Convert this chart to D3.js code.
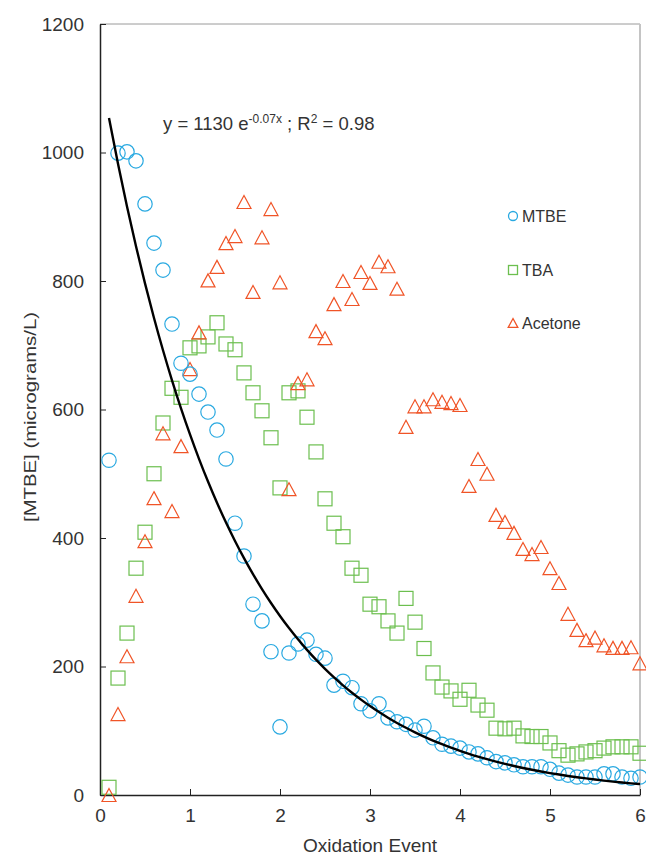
<!DOCTYPE HTML>
<html>
	<head>
        <meta charset="utf-8">
		<title>MTBE oxidation</title>
        <script src="https://d3js.org/d3.v7.min.js"></script>
        <style>
            body { margin: 0; background: #fff; }
            text { font-family: "Liberation Sans", Arial, sans-serif; fill: #333; }
        </style>
	</head>
	<body>
        <svg id="chart" width="646" height="857"></svg>
        <script type="text/javascript">
            var events = [0.1,0.2,0.3,0.4,0.5,0.6,0.7,0.8,0.9,1.0,1.1,1.2,1.3,1.4,1.5,1.6,1.7,1.8,1.9,2.0,
                          2.1,2.2,2.3,2.4,2.5,2.6,2.7,2.8,2.9,3.0,3.1,3.2,3.3,3.4,3.5,3.6,3.7,3.8,3.9,4.0,
                          4.1,4.2,4.3,4.4,4.5,4.6,4.7,4.8,4.9,5.0,5.1,5.2,5.3,5.4,5.5,5.6,5.7,5.8,5.9,6.0];

            var mtbe = [521,999,1001,987,920,859,817,733,672,655,624,596,568,523,423,372,297,271,223,106,
                        221,235,241,219,213,171,177,167,142,131,142,120,114,110,101,107,89,79,76,73,
                        67,64,58,52,50,47,44,44,44,40,34,31,28,28,28,33,33,28,26,28];

            var tba = [12,182,252,353,409,500,579,633,619,696,699,713,735,702,693,657,626,598,556,478,
                       626,629,588,534,461,423,402,353,342,297,293,271,252,306,269,228,190,168,162,149,
                       163,140,132,104,103,104,92,91,91,81,69,62,64,67,69,73,75,75,75,65];

            var acetone = [0,126,216,310,395,462,563,442,543,663,720,801,822,859,870,923,783,868,912,798,
                           476,641,647,722,711,764,800,772,814,797,830,823,788,573,605,605,616,612,610,607,
                           481,523,500,436,425,408,383,375,386,353,330,282,257,241,245,233,229,229,230,205];

            var xTicks = [0,1,2,3,4,5,6];
            var yTicks = [0,200,400,600,800,1000,1200];

            // fitted curve y = 1130 e^(-0.07 n), n = event number (10 per unit on the axis)
            var fitA = 1130, fitK = 0.07;

            var svg = d3.select("svg#chart"),
                margin = { top: 24, right: 6, bottom: 62, left: 100 },
                width = +svg.attr("width") - margin.left - margin.right,
                height = +svg.attr("height") - margin.top - margin.bottom;

            var x = d3.scaleLinear().domain([0, 6]).range([0, width]);
            var y = d3.scaleLinear().domain([0, 1200]).range([height, 0]);

            var g = svg.append("g")
                .attr("transform", "translate(" + margin.left + "," + margin.top + ")");

            // frame: light top/right border
            g.append("line").attr("x1", 0).attr("x2", width).attr("y1", 0).attr("y2", 0)
                .attr("stroke", "#9a9a9a").attr("stroke-width", 1);
            g.append("line").attr("x1", width).attr("x2", width).attr("y1", 0).attr("y2", height)
                .attr("stroke", "#c4c4c4").attr("stroke-width", 2);

            var xAxis = g.append("g")
                .attr("transform", "translate(0," + height + ")")
                .call(d3.axisBottom(x).tickValues(xTicks).tickFormat(d3.format("d"))
                    .tickSizeInner(-6).tickSizeOuter(0).tickPadding(14));
            var yAxis = g.append("g")
                .call(d3.axisLeft(y).tickValues(yTicks).tickFormat(d3.format("d"))
                    .tickSizeInner(-6).tickSizeOuter(0).tickPadding(16));

            [xAxis, yAxis].forEach(function(a) {
                a.select(".domain").attr("stroke", "#222").attr("stroke-width", 1.5);
                a.selectAll(".tick line").attr("stroke", "#222");
                a.selectAll(".tick text")
                    .attr("font-family", "Liberation Sans, Arial, sans-serif")
                    .attr("font-size", 19).attr("fill", "#333");
            });

            svg.append("text")
                .attr("x", margin.left + width / 2)
                .attr("y", 852)
                .attr("text-anchor", "middle")
                .attr("font-size", 19)
                .text("Oxidation Event");

            svg.append("text")
                .attr("transform", "translate(36," + 417 + ") rotate(-90)")
                .attr("text-anchor", "middle")
                .attr("font-size", 17)
                .attr("font-family", "Liberation Sans Narrow, Liberation Sans, Arial, sans-serif")
                .attr("textLength", 210)
                .attr("lengthAdjust", "spacingAndGlyphs")
                .text("[MTBE]  (micrograms/L)");

            // equation
            var eq = svg.append("text").attr("x", 163).attr("y", 130).attr("font-size", 18.5);
            eq.append("tspan").text("y = 1130 e");
            eq.append("tspan").attr("font-size", 12).attr("dy", -7).text("-0.07x");
            eq.append("tspan").attr("dy", 7).text(" ; R");
            eq.append("tspan").attr("font-size", 12).attr("dy", -7).text("2");
            eq.append("tspan").attr("dy", 7).text(" = 0.98");

            var colors = { mtbe: "#29a9e1", tba: "#6cbf4f", acetone: "#f05427" };
            var triangle = function(s) { return "M0," + (-s * 0.93) + "L" + s + "," + (s * 0.93) + "L" + (-s) + "," + (s * 0.93) + "Z"; };

            // trend line
            var fit = events.map(function(e) { return { x: e, y: fitA * Math.exp(-fitK * e * 10) }; });
            var line = d3.line()
                .x(function(d) { return x(d.x); })
                .y(function(d) { return y(d.y); })
                .curve(d3.curveMonotoneX);

            g.append("g").selectAll("rect")
                .data(events.map(function(e, i) { return [e, tba[i]]; }))
                .enter().append("rect")
                .attr("x", function(d) { return x(d[0]) - 7; })
                .attr("y", function(d) { return y(d[1]) - 7; })
                .attr("width", 14).attr("height", 14)
                .attr("fill", "none").attr("stroke", colors.tba).attr("stroke-width", 1.2);

            g.append("g").selectAll("path")
                .data(events.map(function(e, i) { return [e, acetone[i]]; }))
                .enter().append("path")
                .attr("transform", function(d) { return "translate(" + x(d[0]) + "," + y(d[1]) + ")"; })
                .attr("d", triangle(7))
                .attr("fill", "none").attr("stroke", colors.acetone).attr("stroke-width", 1.2);

            g.append("g").selectAll("circle")
                .data(events.map(function(e, i) { return [e, mtbe[i]]; }))
                .enter().append("circle")
                .attr("cx", function(d) { return x(d[0]); })
                .attr("cy", function(d) { return y(d[1]); })
                .attr("r", 7.2)
                .attr("fill", "none").attr("stroke", colors.mtbe).attr("stroke-width", 1.2);

            g.append("path")
                .datum(fit)
                .attr("fill", "none")
                .attr("stroke", "#000")
                .attr("stroke-width", 2.4)
                .attr("d", line);

            // legend
            var legend = [
                { name: "MTBE", key: "mtbe", y: 216 },
                { name: "TBA", key: "tba", y: 270 },
                { name: "Acetone", key: "acetone", y: 323 }
            ];
            var lg = svg.append("g").selectAll("g").data(legend).enter().append("g")
                .attr("transform", function(d) { return "translate(513," + d.y + ")"; });
            lg.each(function(d) {
                var s = d3.select(this);
                if (d.key === "mtbe") s.append("circle").attr("r", 4.5);
                else if (d.key === "tba") s.append("rect").attr("x", -4.5).attr("y", -4.5).attr("width", 9).attr("height", 9);
                else s.append("path").attr("d", triangle(4.8));
                s.selectAll("circle,rect,path").attr("fill", "none").attr("stroke", colors[d.key]).attr("stroke-width", 1.3);
            });
            lg.append("text")
                .attr("x", 9).attr("dy", "0.36em")
                .attr("font-size", 16)
                .text(function(d) { return d.name; });
        </script>
	</body>
</html>
